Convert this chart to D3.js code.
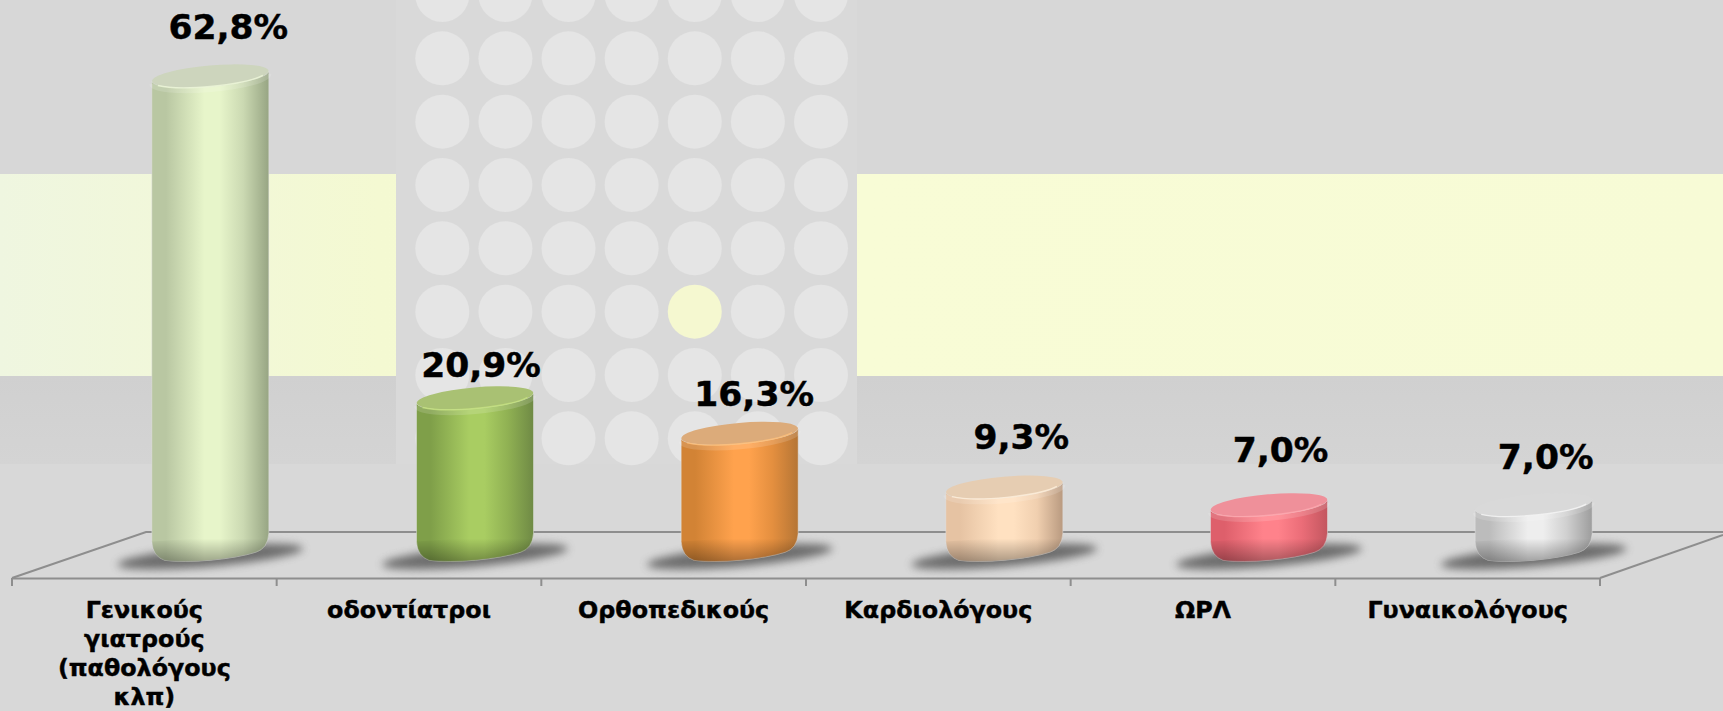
<!DOCTYPE html>
<html><head><meta charset="utf-8">
<script src="https://cdn.jsdelivr.net/npm/d3@7"></script>
<style>html,body{margin:0;padding:0;background:#d8d8d8;overflow:hidden}svg{display:block}
text{font-family:"DejaVu Sans",Verdana,sans-serif;font-weight:bold;fill:#000;stroke:#000;stroke-width:.45px}</style>
</head><body><svg id="c" width="1723" height="711"></svg>
<script>
const categories = [["Γενικούς","γιατρούς","(παθολόγους","κλπ)"],["οδοντίατροι"],["Ορθοπεδικούς"],["Καρδιολόγους"],["ΩΡΛ"],["Γυναικολόγους"]];
const values = [62.8,20.9,16.3,9.3,7.0,7.0];
const valueLabels = ["62,8%","20,9%","16,3%","9,3%","7,0%","7,0%"];
const sideColors = [["#b9c7a2","#e7f5ca","#97a583"],["#7f9f49","#a9cd62","#6f8a45"],["#d28335","#ffa24d","#b57535"],["#e6c3a3","#ffe1c1","#b99a80"],["#de5f6b","#ff828b","#c3565f"],["#bcbcbc","#eeeeee","#9d9d9d"]];
const topColors = ["#cdd5bd","#a9c173","#dcab7a","#e6cdb2","#ef909a","#d9d9d9"];
const rimColors = ["#eef7d8","#c6e27f","#ffc07a","#fff0dc","#ffa6ae","#f6f6f6"];
const labelDx = [18,6,14.5,17,11.5,12];
const labelDy = [-37,-21,-27,-38,-43,-36];

const W=1723,H=711;
const svg=d3.select("#c");
const defs=svg.append("defs");
const x=d3.scaleBand().domain(d3.range(categories.length)).range([12,1600]);
const y=d3.scaleLinear().domain([0,62.8]).range([558.6,76]);
const barOffset=66, rx=58.5, ry=10.5, tilt=-5, dyEnd=5.1, floorCy=549.5;

// background
const bg=svg.append("g");
bg.append("rect").attr("width",W).attr("height",H).attr("fill","#d8d8d8");
bg.append("rect").attr("width",W).attr("height",174).attr("fill","#d7d7d7");
const yg=defs.append("linearGradient").attr("id","yl");
yg.append("stop").attr("offset",0).attr("stop-color","#eff6e0");
yg.append("stop").attr("offset",.22).attr("stop-color","#f4f9d2");
yg.append("stop").attr("offset",.5).attr("stop-color","#f8fcd6");
yg.append("stop").attr("offset",1).attr("stop-color","#f7fbd6");
const bf=defs.append("linearGradient").attr("id","bf").attr("x1",0).attr("x2",0).attr("y1",0).attr("y2",1);
bf.append("stop").attr("offset",0).attr("stop-color","#d0d0d0");
bf.append("stop").attr("offset",1).attr("stop-color","#d4d4d4");
bg.append("rect").attr("y",376).attr("width",W).attr("height",88).attr("fill","url(#bf)");
bg.append("rect").attr("y",174).attr("width",W).attr("height",202).attr("fill","url(#yl)");
bg.append("rect").attr("x",396).attr("width",461).attr("height",464).attr("fill","#d9d9d9");
defs.append("filter").attr("id","soft").append("feGaussianBlur").attr("stdDeviation",.7);
const colX=d3.scaleLinear().domain([0,6]).range([442.3,821]);
const rowY=d3.scaleLinear().domain([0,7]).range([-5,438.3]);
d3.range(8).forEach(r=>d3.range(7).forEach(c=>{
  bg.append("circle").attr("cx",colX(c)).attr("cy",rowY(r)).attr("r",27)
    .attr("fill",(r===5&&c===4)?"#f5f8d0":"#e5e5e5").attr("filter","url(#soft)");
}));

// floor
const floor=svg.append("g").attr("fill","none").attr("stroke","#8e8e8e").attr("stroke-width",2);
floor.append("path").attr("d",`M12,578L146,532L${W},532`);
floor.append("path").attr("d",`M1600,578L${W},535`);

// x axis
const axis=svg.append("g").attr("transform","translate(0,578)").call(d3.axisBottom(x).tickSize(0).tickFormat(""));
axis.select(".domain").attr("stroke","#8e8e8e").attr("stroke-width",2);
axis.selectAll(".tick").remove();
const edges=categories.map((_,i)=>x(i)).concat([x.range()[1]]);
axis.selectAll("line.t").data(edges).join("line").attr("class","t")
  .attr("x1",d=>d).attr("x2",d=>d).attr("y1",0).attr("y2",8).attr("stroke","#8e8e8e").attr("stroke-width",2);

// shadow blur
defs.append("filter").attr("id","sh").attr("x","-30%").attr("y","-100%").attr("width","160%").attr("height","300%")
  .append("feGaussianBlur").attr("stdDeviation",4);

// bars
const bars=svg.append("g");
values.forEach((v,i)=>{
  const cx=x(i)+x.bandwidth()/2+barOffset, l=cx-rx, r=cx+rx, ty=y(v);
  const g=sideColors[i];
  const lg=defs.append("linearGradient").attr("id","g"+i);
  [[0,g[0]],[.12,g[0]],[.45,g[1]],[.58,g[1]],[.78,d3.interpolateRgb(g[1],g[0])(.6)],[1,g[2]]].forEach(s=>lg.append("stop").attr("offset",s[0]).attr("stop-color",s[1]));
  const b=bars.append("g");
  b.append("ellipse").attr("cx",cx).attr("cy",floorCy+7).attr("rx",93).attr("ry",10)
    .attr("transform",`rotate(${tilt} ${cx} ${floorCy+7})`).attr("fill","#5a5a5a").attr("opacity",.85).attr("filter","url(#sh)");
  const bl=floorCy+dyEnd*.8, br=floorCy-dyEnd*.8, c=12, e=13, f=6.8;
  const lowerEdge=`Q${l+1},${bl+3} ${l+e},${bl+f}A${rx},${ry} ${tilt} 0 0 ${r-e},${br+f}Q${r-1},${br+3} ${r},${br-c}`;
  const side=`M${l},${ty+dyEnd}L${l},${bl-c}${lowerEdge}L${r},${ty-dyEnd}A${rx},${ry} ${tilt} 0 1 ${l},${ty+dyEnd}Z`;
  b.append("path").attr("d",side).attr("fill",`url(#g${i})`).attr("stroke","#e4e4e4").attr("stroke-opacity",.6).attr("stroke-width",.8);
  // lower bevel
  const sd=defs.append("linearGradient").attr("id","bv"+i).attr("gradientUnits","userSpaceOnUse")
    .attr("x1",0).attr("x2",0).attr("y1",floorCy-11).attr("y2",floorCy+12);
  sd.append("stop").attr("offset",0).attr("stop-color","#000").attr("stop-opacity",0);
  sd.append("stop").attr("offset",1).attr("stop-color","#000").attr("stop-opacity",.32);
  b.append("path").attr("d",`M${l},${bl-c}${lowerEdge}Z`).attr("fill",`url(#bv${i})`);
  // top
  b.append("path").attr("d",`M${l},${ty+dyEnd+3}A${rx},${ry} ${tilt} 0 0 ${r},${ty-dyEnd+3}`)
    .attr("fill","none").attr("stroke","#fff").attr("stroke-opacity",.14).attr("stroke-width",5);
  b.append("ellipse").attr("cx",cx).attr("cy",ty).attr("rx",rx).attr("ry",ry)
    .attr("transform",`rotate(${tilt} ${cx} ${ty})`).attr("fill",topColors[i]);
  b.append("path").attr("d",`M${l+6},${ty+dyEnd+4.4}A${rx},${ry} ${tilt} 0 0 ${r-6},${ty-dyEnd+4.4}`)
    .attr("fill","none").attr("stroke",rimColors[i]).attr("stroke-opacity",.8).attr("stroke-width",1.4);
});

// value labels
svg.append("g").selectAll("text").data(values).join("text")
  .attr("x",(d,i)=>x(i)+x.bandwidth()/2+barOffset+labelDx[i])
  .attr("y",(d,i)=>y(d)+labelDy[i])
  .attr("text-anchor","middle").attr("font-size",34.5).text((d,i)=>valueLabels[i]);

// category labels
const catG=svg.append("g");
categories.forEach((lines,i)=>{
  const t=catG.append("text").attr("text-anchor","middle").attr("font-size",23.8);
  lines.forEach((s,j)=>t.append("tspan").attr("x",x(i)+x.bandwidth()/2).attr("y",618+j*29).text(s));
});
</script></body></html>
